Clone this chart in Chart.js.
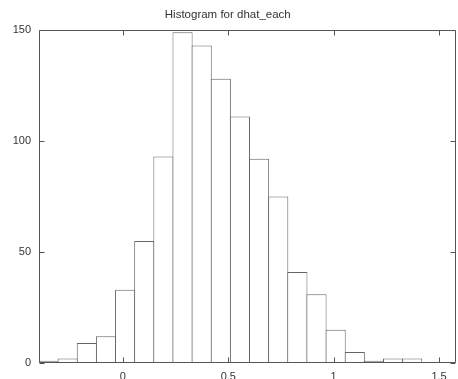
<!DOCTYPE html>
<html>
<head>
<meta charset="utf-8">
<script src="https://cdn.jsdelivr.net/npm/chart.js@4"></script>
<style>
  html, body { margin: 0; padding: 0; background: #fff; overflow: hidden; }
  #wrap { width: 458px; height: 379px; overflow: hidden; }
</style>
</head>
<body>
<div id="wrap"><canvas id="hist" width="458" height="390"></canvas></div>
<script>
// bin centres (bin width ~0.0908) and counts
const binCenters = [-0.3526, -0.2618, -0.1710, -0.0802, 0.0106, 0.1014, 0.1922, 0.2830, 0.3738, 0.4646,
                    0.5554, 0.6462, 0.7370, 0.8278, 0.9186, 1.0094, 1.1002, 1.1910, 1.2818, 1.3726];
const counts = [1, 2, 9, 12, 33, 55, 93, 149, 143, 128, 111, 92, 75, 41, 31, 15, 5, 1, 2, 2];
const xTicks = [0, 0.5, 1, 1.5];
const yTicks = [0, 50, 100, 150];
const xMin = -0.398, xMax = 1.578;

const font = { family: "'Liberation Sans', Arial, sans-serif", size: 11 };

// gnuplot style box with inward ticks on all sides
const frame = {
  id: 'frame',
  afterDatasetsDraw(chart) {
    const { ctx, chartArea: a, scales: { x, y } } = chart;
    const L = Math.round(a.left) + 0.5, R = Math.round(a.right) - 0.5;
    const T = Math.round(a.top) + 0.5, B = Math.round(a.bottom) - 0.5;
    ctx.save();
    ctx.strokeStyle = '#555';
    ctx.lineWidth = 1;
    ctx.beginPath();
    ctx.rect(L, T, R - L, B - T);
    xTicks.forEach(v => {
      const px = Math.round(x.getPixelForValue(v)) + 0.5;
      ctx.moveTo(px, B); ctx.lineTo(px, B - 5);
      ctx.moveTo(px, T); ctx.lineTo(px, T + 5);
    });
    yTicks.forEach(v => {
      const py = Math.round(y.getPixelForValue(v)) + 0.5;
      ctx.moveTo(L, py); ctx.lineTo(L + 5, py);
      ctx.moveTo(R, py); ctx.lineTo(R - 5, py);
    });
    ctx.stroke();
    ctx.restore();
  }
};

new Chart(document.getElementById('hist'), {
  type: 'bar',
  data: {
    datasets: [{
      data: binCenters.map((c, i) => ({ x: c, y: counts[i] })),
      backgroundColor: '#fff',
      borderColor: '#666',
      borderWidth: 1,
      barPercentage: 1.052,
      categoryPercentage: 1
    }]
  },
  options: {
    responsive: false,
    animation: false,
    devicePixelRatio: 1,
    layout: { padding: { left: 0, right: 2.5, top: 0, bottom: 0 } },
    plugins: {
      legend: { display: false },
      tooltip: { enabled: false },
      title: {
        display: true,
        text: 'Histogram for dhat_each',
        color: '#333',
        font: { family: font.family, size: 11.5, weight: 'normal' },
        padding: { top: 8, bottom: 8.2 }
      }
    },
    scales: {
      x: {
        type: 'linear',
        offset: false,
        min: xMin,
        max: xMax,
        grid: { display: false, drawTicks: false, offset: false },
        border: { display: false },
        ticks: { color: '#333', font, padding: 7, maxRotation: 0, callback: v => String(v) },
        afterBuildTicks: s => { s.ticks = xTicks.map(v => ({ value: v })); },
        afterFit: s => { s.height = 27; }
      },
      y: {
        min: 0,
        max: 150,
        grid: { display: false, drawTicks: false },
        border: { display: false },
        ticks: { color: '#333', font, padding: 8, stepSize: 50, callback: v => String(v) },
        afterBuildTicks: s => { s.ticks = yTicks.map(v => ({ value: v })); },
        afterFit: s => { s.width = 39; }
      }
    }
  },
  plugins: [frame]
});
</script>
</body>
</html>
